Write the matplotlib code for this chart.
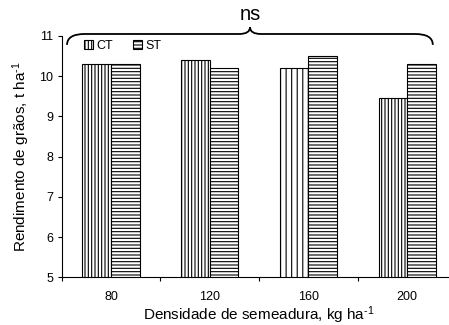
import numpy as np
import matplotlib
matplotlib.use("Agg")
import matplotlib.pyplot as plt
from matplotlib.path import Path
from matplotlib.patches import PathPatch

# ==============================================================================
#       Data
# ==============================================================================
densidade = ['80', '120', '160', '200']
ct = [10.3, 10.4, 10.2, 9.45]
st = [10.3, 10.2, 10.5, 10.3]

plt.rcParams['font.family'] = ['Liberation Sans', 'DejaVu Sans']
plt.rcParams['mathtext.default'] = 'regular'
plt.rcParams['hatch.linewidth'] = 0.8
plt.rcParams['axes.linewidth'] = 0.8

W, H = 449, 325
fig = plt.figure(figsize=(W/100, H/100), dpi=100)
# axes box in pixels: left 61.7, top 36, bottom 277.3, one category = 98.7 px
ax = fig.add_axes([61.7/W, (H-277.3)/H, 4*98.7/W, (277.3-36)/H])

x = np.arange(len(densidade))
bw = 0.29
ct_hatch = ['|||||', '|||||', '|||', '|||||']
bars_ct = ax.bar(x - bw/2, ct, bw, color='white', edgecolor='black', linewidth=0.8, label='CT')
for b, h in zip(bars_ct, ct_hatch):
    b.set_hatch(h)
bars_st = ax.bar(x + bw/2, st, bw, color='white', edgecolor='black', linewidth=0.8,
                 hatch='-----', label='ST')

ax.set_xlim(-0.5, 3.5)
ax.set_ylim(5, 11)
ax.set_yticks(range(5, 12))
ax.set_xticks(x)
ax.set_xticklabels(densidade)
ax.set_xticks(np.arange(-0.5, 4, 1), minor=True)
ax.tick_params(axis='x', which='major', length=0, pad=10, labelsize=9)
ax.tick_params(axis='x', which='minor', length=3, width=0.8, direction='out')
ax.tick_params(axis='y', length=3, width=0.8, direction='out', pad=3, labelsize=9)
for s in ['top', 'right']:
    ax.spines[s].set_visible(False)

ax.set_xlabel('Densidade de semeadura, kg ha$^{\u20101}$', fontsize=11, labelpad=1)
ax.set_ylabel('Rendimento de grãos, t ha$^{\u20101}$', fontsize=11, labelpad=5)

leg = ax.legend(loc='upper left', bbox_to_anchor=(0.057, 0.985), ncol=2, frameon=False,
                fontsize=9, handlelength=0.7, handleheight=0.7, handletextpad=0.3,
                columnspacing=1.6, borderpad=0, borderaxespad=0)

# brace over all groups with "ns"
x0, xm, x1 = -0.446, 1.408, 3.26
yend, yline, ytip = 10.78, 11.05, 11.22
de, dm = 0.18, 0.11
verts = [(x0, yend), (x0, yline), (x0 + de, yline),
         (xm - dm, yline),
         (xm, yline), (xm, ytip),
         (xm, yline), (xm + dm, yline),
         (x1 - de, yline),
         (x1, yline), (x1, yend)]
codes = [Path.MOVETO, Path.CURVE3, Path.CURVE3,
         Path.LINETO,
         Path.CURVE3, Path.CURVE3,
         Path.CURVE3, Path.CURVE3,
         Path.LINETO,
         Path.CURVE3, Path.CURVE3]
ax.add_patch(PathPatch(Path(verts, codes), facecolor='none', edgecolor='black',
                       linewidth=1.3, clip_on=False))
ax.text(xm, 11.3, 'ns', ha='center', va='bottom', fontsize=14.5)

fig.savefig('out.png', dpi=100)
